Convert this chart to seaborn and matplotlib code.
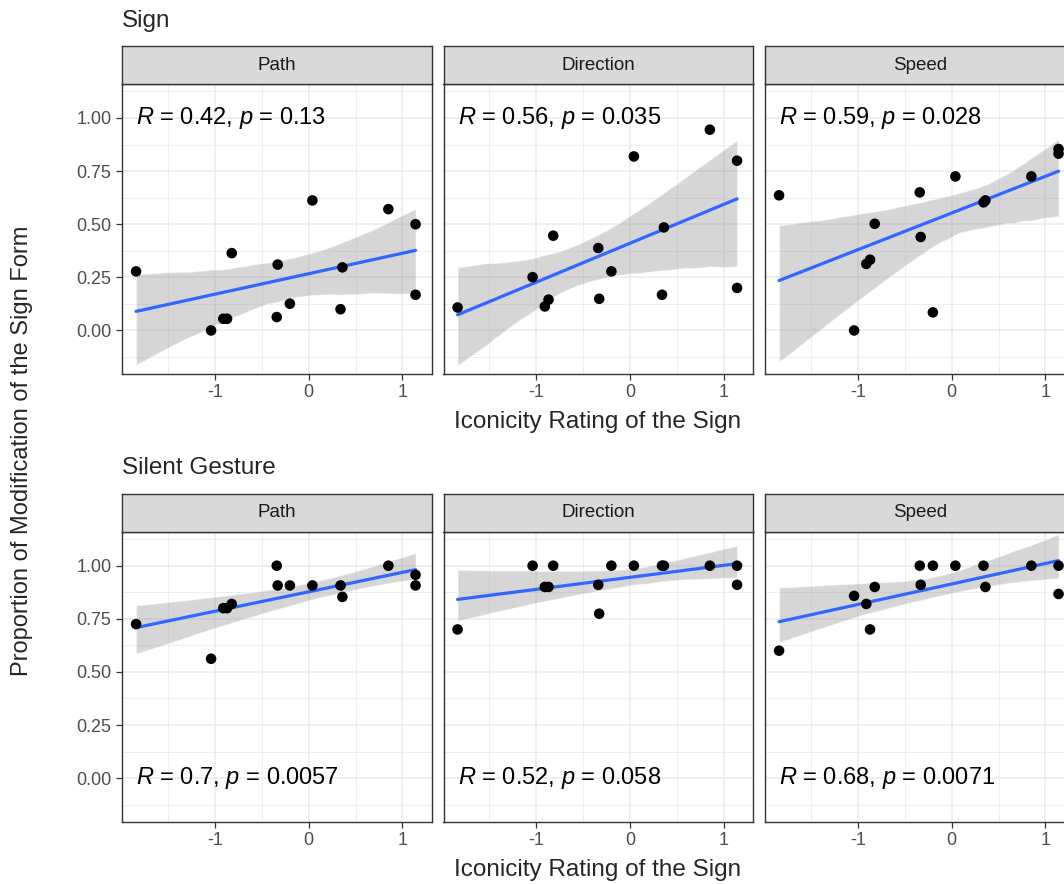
import numpy as np
import pandas as pd
import seaborn as sns
import matplotlib.pyplot as plt
from matplotlib.collections import PolyCollection
from matplotlib.ticker import FixedLocator

# iconicity rating of each sign (same signs in every panel)
iconicity = [-1.84, -1.04, -0.91, -0.87, -0.82, -0.34, -0.33, -0.20,
             0.04, 0.34, 0.36, 0.85, 1.14, 1.14]

# proportion of modification, one list per panel
sign_path = [0.278, 0.0, 0.055, 0.055, 0.364, 0.063, 0.31, 0.126,
             0.612, 0.10, 0.297, 0.571, 0.50, 0.168]
sign_direction = [0.108, 0.251, 0.113, 0.145, 0.446, 0.388, 0.149, 0.278,
                  0.819, 0.168, 0.485, 0.945, 0.799, 0.20]
sign_speed = [0.636, 0.0, 0.313, 0.333, 0.502, 0.65, 0.44, 0.085,
              0.725, 0.603, 0.612, 0.725, 0.854, 0.832]
gesture_path = [0.725, 0.562, 0.80, 0.80, 0.82, 1.00, 0.907, 0.907,
                0.907, 0.907, 0.853, 1.00, 0.957, 0.907]
gesture_direction = [0.70, 1.00, 0.90, 0.90, 1.00, 0.91, 0.774, 1.00,
                     1.00, 1.00, 1.00, 1.00, 1.00, 0.91]
gesture_speed = [0.60, 0.858, 0.82, 0.70, 0.90, 1.00, 0.91, 1.00,
                 1.00, 1.00, 0.90, 1.00, 1.00, 0.867]

modalities = ["Sign", "Silent Gesture"]
features = ["Path", "Direction", "Speed"]
r_values = ["0.42", "0.56", "0.59", "0.7", "0.52", "0.68"]
p_values = ["0.13", "0.035", "0.028", "0.0057", "0.058", "0.0071"]

panel_data = [sign_path, sign_direction, sign_speed,
              gesture_path, gesture_direction, gesture_speed]

sns.set_theme(style="white")
plt.rcParams["font.family"] = ["Liberation Sans", "DejaVu Sans"]
plt.rcParams["axes.unicode_minus"] = False
plt.rcParams["mathtext.fontset"] = "custom"
plt.rcParams["mathtext.it"] = "Liberation Sans:italic"
plt.rcParams["mathtext.rm"] = "Liberation Sans"

W, H = 1064, 884
fig = plt.figure(figsize=(W / 100, H / 100), dpi=100)


def px_axes(left, top, width, height):
    return fig.add_axes([left / W, 1 - (top + height) / H, width / W, height / H])


col_left = [122, 443.5, 765]
panel_w = 309.5
row_top = [84, 531.7]
panel_h = 290
strip_h = 38

for i, ys in enumerate(panel_data):
    row, col = divmod(i, 3)
    ax = px_axes(col_left[col], row_top[row], panel_w, panel_h)
    df = pd.DataFrame({"x": iconicity, "y": ys})
    sns.regplot(data=df, x="x", y="y", ax=ax, ci=95, n_boot=2000, seed=3,
                color="#999999",
                scatter_kws=dict(s=58, color="black", edgecolor="none",
                                 alpha=1, zorder=3),
                line_kws=dict(color="#3366FF", lw=2.3, zorder=2))
    for coll in ax.collections:
        if isinstance(coll, PolyCollection):
            coll.set_facecolor("#999999")
            coll.set_alpha(0.4)
            coll.set_zorder(1)

    ax.set_xlim(-1.99, 1.31)
    ax.set_ylim(-0.205, 1.16)
    ax.xaxis.set_major_locator(FixedLocator([-1, 0, 1]))
    ax.xaxis.set_minor_locator(FixedLocator([-1.5, -0.5, 0.5]))
    ax.yaxis.set_major_locator(FixedLocator([0, 0.25, 0.5, 0.75, 1.0]))
    ax.yaxis.set_minor_locator(FixedLocator([-0.125, 0.125, 0.375, 0.625, 0.875, 1.125]))
    ax.set_xticklabels(["-1", "0", "1"])
    ax.set_yticklabels(["0.00", "0.25", "0.50", "0.75", "1.00"])
    ax.grid(True, which="major", color="#EBEBEB", lw=1.1)
    ax.grid(True, which="minor", color="#EBEBEB", lw=0.6)
    ax.set_axisbelow(True)
    ax.tick_params(which="major", direction="out", length=4, width=0.9,
                   color="#333333", labelcolor="#4D4D4D", labelsize=13, pad=3.5,
                   bottom=True, left=(col == 0), labelleft=(col == 0))
    ax.tick_params(which="minor", length=0)
    for sp in ax.spines.values():
        sp.set_color("#333333")
        sp.set_linewidth(1.0)
    ax.set_xlabel("")
    ax.set_ylabel("")

    label = rf"$\mathit{{R}}$ = {r_values[i]}, $\mathit{{p}}$ = {p_values[i]}"
    label_y = 1.0 if row == 0 else 0.0
    ax.text(min(iconicity), label_y, label, fontsize=17, color="black",
            ha="left", va="center")

    # facet strip
    sax = px_axes(col_left[col], row_top[row] - strip_h, panel_w, strip_h)
    sax.set_facecolor("#D9D9D9")
    sax.set_xticks([])
    sax.set_yticks([])
    for sp in sax.spines.values():
        sp.set_color("#333333")
        sp.set_linewidth(1.0)
    sax.text(0.5, 0.5, features[col], transform=sax.transAxes, ha="center",
             va="center", fontsize=13.5, color="#1A1A1A")

# row titles
fig.text(122 / W, 1 - 27 / H, modalities[0], fontsize=17.5, ha="left", va="baseline")
fig.text(122 / W, 1 - 474 / H, modalities[1], fontsize=17.5, ha="left", va="baseline")

# axis titles
for base in (428, 876):
    fig.text(598 / W, 1 - base / H, "Iconicity Rating of the Sign", fontsize=17.5,
             ha="center", va="baseline")
fig.text(22 / W, 1 - 451 / H, "Proportion of Modification of the Sign Form",
         fontsize=17, rotation=90, ha="center", va="center")

fig.savefig("out.png", dpi=100)
